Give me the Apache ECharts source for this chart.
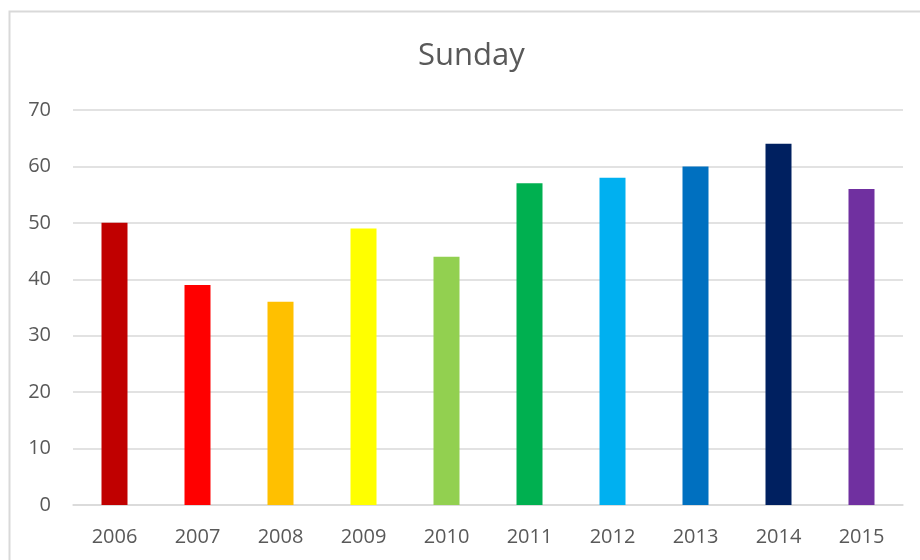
<!DOCTYPE html>
<html>
<head>
<meta charset="utf-8">
<script src="https://cdn.jsdelivr.net/npm/echarts@6/dist/echarts.min.js"></script>
<style>
  html, body { margin: 0; padding: 0; background: #fff; }
  #main { width: 920px; height: 560px; }
</style>
</head>
<body>
<div id="main"></div>
<script>
var years = ['2006', '2007', '2008', '2009', '2010', '2011', '2012', '2013', '2014', '2015'];
var sundayValues = [50, 39, 36, 49, 44, 57, 58, 60, 64, 56];
var barColors = ['#C00000', '#FF0000', '#FFC000', '#FFFF00', '#92D050',
                 '#00B050', '#00B0F0', '#0070C0', '#002060', '#7030A0'];

var myChart = echarts.init(document.getElementById('main'));
var textColor = '#595959',
    lineColor = '#d9d9d9',
    fontFamily = '"Open Sans", "Noto Sans", sans-serif';

var option = {
    animation: false,
    backgroundColor: '#fff',
    textStyle: { fontFamily: fontFamily },
    title: {
        text: 'Sunday',
        left: 413,
        top: 36,
        textStyle: { color: textColor, fontSize: 31, fontWeight: 'normal', fontFamily: fontFamily }
    },
    // chart frame (only top and left edges are visible in the picture)
    graphic: [{
        type: 'rect',
        shape: { x: 9.5, y: 11.5, width: 1000, height: 1000 },
        style: { fill: 'none', stroke: lineColor, lineWidth: 2 },
        z: -1
    }],
    grid: { left: 73, right: 17, top: 110, bottom: 55 },
    xAxis: {
        type: 'category',
        data: years,
        axisLine: { lineStyle: { color: lineColor, width: 1.5 } },
        axisTick: { show: false },
        axisLabel: { color: textColor, fontSize: 20, margin: 22 }
    },
    yAxis: {
        type: 'value',
        min: 0,
        max: 70,
        interval: 10,
        axisLine: { show: false },
        axisTick: { show: false },
        splitLine: { lineStyle: { color: lineColor, width: 1.5 } },
        axisLabel: { color: textColor, fontSize: 20, margin: 22 }
    },
    series: [{
        name: 'Sunday',
        type: 'bar',
        barWidth: 26,
        data: sundayValues.map(function (v, i) {
            return { value: v, itemStyle: { color: barColors[i] } };
        })
    }]
};
myChart.setOption(option);
</script>
</body>
</html>
